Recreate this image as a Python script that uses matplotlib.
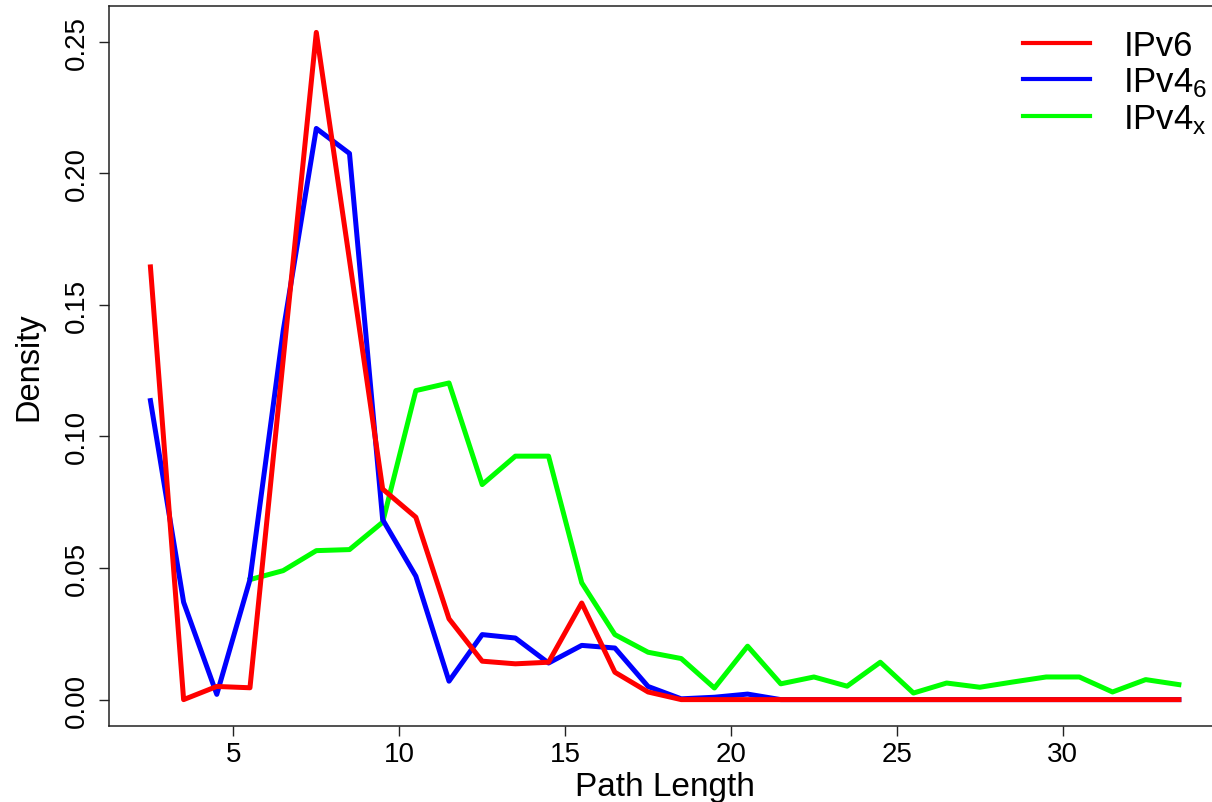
import matplotlib
matplotlib.use("Agg")
import matplotlib.pyplot as plt
import numpy as np

#----------------------------------------------------------------------------------
# path length density

path_length = [2.5, 3.5, 4.5, 5.5, 6.5, 7.5, 8.5, 9.5, 10.5, 11.5, 12.5, 13.5, 14.5, 15.5, 16.5, 17.5,
               18.5, 19.5, 20.5, 21.5, 22.5, 23.5, 24.5, 25.5, 26.5, 27.5, 28.5, 29.5, 30.5, 31.5, 32.5, 33.5]

ipv6 = [0.1644, 0.0000, 0.0050, 0.0045, 0.1290, 0.2535, 0.1670, 0.0800, 0.0693, 0.0307, 0.0146, 0.0136,
        0.0142, 0.0367, 0.0104, 0.0029, 0.0, 0.0, 0.0, 0.0, 0.0, 0.0, 0.0, 0.0, 0.0, 0.0, 0.0, 0.0,
        0.0, 0.0, 0.0, 0.0]

ipv4_6 = [0.1136, 0.0370, 0.0020, 0.0456, 0.1400, 0.2170, 0.2075, 0.0684, 0.0469, 0.0070, 0.0247, 0.0234,
          0.0139, 0.0206, 0.0196, 0.0050, 0.0003, 0.0009, 0.0021, 0.0, 0.0, 0.0, 0.0, 0.0, 0.0, 0.0, 0.0,
          0.0, 0.0, 0.0, 0.0, 0.0]

# no IPv4x paths shorter than 5.5
ipv4_x = [np.nan, np.nan, np.nan, 0.0456, 0.0490, 0.0566, 0.0570, 0.0674, 0.1174, 0.1203, 0.0817, 0.0925,
          0.0925, 0.0444, 0.0247, 0.0180, 0.0156, 0.0044, 0.0203, 0.0060, 0.0086, 0.0051, 0.0142, 0.0025,
          0.0063, 0.0047, 0.0067, 0.0086, 0.0086, 0.0029, 0.0076, 0.0057]

x_ticks = [5, 10, 15, 20, 25, 30]
y_ticks = [0.00, 0.05, 0.10, 0.15, 0.20, 0.25]

#----------------------------------------------------------------------------------

plt.rcParams["font.family"] = ["Liberation Sans", "DejaVu Sans"]
plt.rcParams["mathtext.fontset"] = "custom"
plt.rcParams["mathtext.rm"] = "Liberation Sans"
plt.rcParams["mathtext.default"] = "regular"

fig = plt.figure(figsize=(12.12, 8.03), dpi=100)
ax = fig.add_axes([109.3 / 1212, 75.7 / 803, 1110.7 / 1212, 720.6 / 803])

ax.plot(path_length, ipv4_x, color="#00ff00", linewidth=3.6, label=r"IPv4$_\mathregular{x}$", zorder=2)
ax.plot(path_length, ipv4_6, color="#0000ff", linewidth=3.6, label=r"IPv4$_\mathregular{6}$", zorder=3)
ax.plot(path_length, ipv6, color="#ff0000", linewidth=3.6, label="IPv6", zorder=4)

# R style axis ranges: data range + 4% each side
x_lo, x_hi = min(path_length), max(path_length)
y_lo = 0.0
y_hi = max(max(ipv6), max(ipv4_6), np.nanmax(ipv4_x))
ax.set_xlim(x_lo - 0.04 * (x_hi - x_lo), x_hi + 0.04 * (x_hi - x_lo))
ax.set_ylim(y_lo - 0.04 * (y_hi - y_lo), y_hi + 0.04 * (y_hi - y_lo))

ax.set_xticks(x_ticks)
ax.set_yticks(y_ticks)
ax.set_yticklabels(["%.2f" % v for v in y_ticks])
ax.tick_params(axis="both", direction="out", length=7, width=1.0, color="#222222", labelsize=20)
ax.tick_params(axis="x", pad=3.5)
ax.tick_params(axis="y", pad=7, labelrotation=90)
for lab in ax.get_yticklabels():
    lab.set_verticalalignment("center")

for side in ["left", "right", "top", "bottom"]:
    ax.spines[side].set_linewidth(1.1)
    ax.spines[side].set_color("#222222")

ax.set_xlabel("Path Length", fontsize=24, va="baseline")
ax.xaxis.set_label_coords(0.5, -0.0953)
ax.set_ylabel("Density", fontsize=23.5, va="center")
ax.yaxis.set_label_coords(-0.072, 0.5)

handles, labels = ax.get_legend_handles_labels()
leg = ax.legend(handles[::-1], labels[::-1], loc="upper left", bbox_to_anchor=(1022.7 / 1212, 1 - 30.0 / 803),
                bbox_transform=fig.transFigure, frameon=False, fontsize=25, handlelength=1.95,
                handletextpad=0.95, labelspacing=0.1, borderpad=0, borderaxespad=0)
for line in leg.get_lines():
    line.set_linewidth(3.0)

fig.savefig("out.png", dpi=100)
